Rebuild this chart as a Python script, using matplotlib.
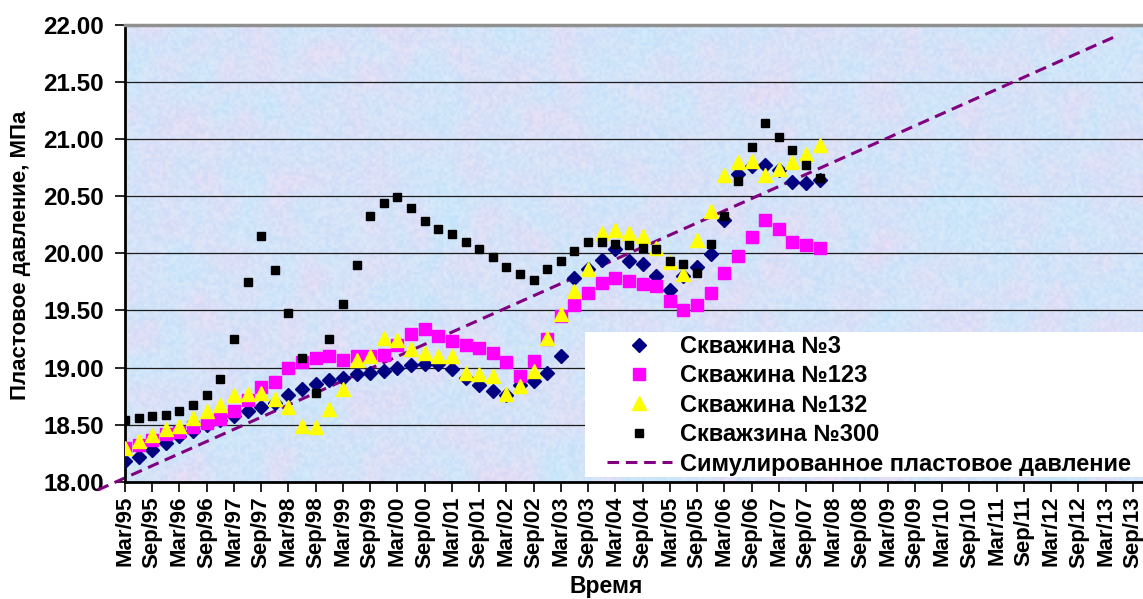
import numpy as np
import matplotlib.pyplot as plt
from matplotlib.patches import Rectangle

plt.rcParams["font.family"] = ["Liberation Sans", "DejaVu Sans"]
plt.rcParams["font.weight"] = "bold"

# quarterly readings, Mar/95 .. Dec/07 (MPa)
well_3 = [18.18, 18.22, 18.28, 18.34, 18.40, 18.45, 18.50, 18.54, 18.58, 18.62,
          18.66, 18.69, 18.76, 18.81, 18.86, 18.89, 18.91, 18.94, 18.95, 18.97,
          19.00, 19.02, 19.03, 19.03, 18.99, 18.91, 18.85, 18.80, 18.76, 18.85,
          18.88, 18.95, 19.10, 19.78, 19.86, 19.94, 20.04, 19.93, 19.91, 19.80,
          19.68, 19.80, 19.88, 19.99, 20.29, 20.69, 20.76, 20.77, 20.73, 20.62,
          20.61, 20.64]
well_123 = [18.30, 18.32, 18.37, 18.42, 18.44, 18.48, 18.52, 18.55, 18.62, 18.72,
            18.83, 18.87, 19.00, 19.05, 19.08, 19.10, 19.07, 19.10, 19.10, 19.11,
            19.20, 19.29, 19.34, 19.28, 19.23, 19.20, 19.17, 19.13, 19.05, 18.93,
            19.06, 19.25, 19.45, 19.55, 19.65, 19.74, 19.78, 19.76, 19.73, 19.71,
            19.58, 19.50, 19.55, 19.65, 19.83, 19.98, 20.14, 20.29, 20.21, 20.10,
            20.07, 20.05]
well_132 = [18.30, 18.36, 18.41, 18.46, 18.49, 18.56, 18.62, 18.67, 18.76, 18.77,
            18.78, 18.73, 18.66, 18.49, 18.48, 18.64, 18.81, 19.07, 19.10, 19.26,
            19.24, 19.16, 19.13, 19.10, 19.10, 18.95, 18.94, 18.93, 18.77, 18.84,
            18.97, 19.26, 19.47, 19.67, 19.86, 20.18, 20.20, 20.18, 20.15, 20.05,
            19.92, 19.82, 20.12, 20.37, 20.68, 20.80, 20.81, 20.68, 20.74, 20.80,
            20.87, 20.95]
well_300 = [18.54, 18.56, 18.58, 18.59, 18.62, 18.67, 18.76, 18.90, 19.25, 19.75,
            20.15, 19.85, 19.48, 19.08, 18.78, 19.25, 19.56, 19.90, 20.33, 20.44,
            20.49, 20.40, 20.28, 20.21, 20.17, 20.10, 20.04, 19.97, 19.88, 19.82,
            19.77, 19.86, 19.93, 20.02, 20.10, 20.10, 20.08, 20.07, 20.05, 20.04,
            19.93, 19.91, 19.83, 20.08, 20.33, 20.63, 20.93, 21.14, 21.02, 20.90,
            20.77, 20.66]

# simulated trend, start/end (quarter index, MPa)
sim_q = [-2.0, 72.8]
sim_p = [17.93, 21.90]

tick_labels = [f"{m}/{y % 100:02d}" for y in range(1995, 2014) for m in ("Mar", "Sep")]
y_ticks = [18.0, 18.5, 19.0, 19.5, 20.0, 20.5, 21.0, 21.5, 22.0]

W, H = 1143, 599
fig = plt.figure(figsize=(W / 100, H / 100), dpi=100)
ax = fig.add_axes([125 / W, 117 / H, (W - 125) / W, 457.5 / H])
px_per_q = 13.62
xmax = (W - 125) / px_per_q

# mottled paper-like fill of the plot area
rng = np.random.default_rng(7)
coarse = rng.random((28, 64))[..., None] ** 1.6
blue = np.array([0.77, 0.90, 0.98])
pink = np.array([0.93, 0.83, 0.95])
ax.imshow(blue * (1 - coarse) + pink * coarse, extent=(0, xmax, 18, 22),
          aspect="auto", interpolation="bicubic", zorder=0)
fine = rng.random((170, 380))[..., None]
grain = np.concatenate([np.array([0.72, 0.86, 0.98]) * (1 - fine) + np.array([1.0, 1.0, 1.0]) * fine,
                        np.full(fine.shape, 0.3)], axis=-1)
ax.imshow(grain, extent=(0, xmax, 18, 22), aspect="auto",
          interpolation="bilinear", zorder=0.1)

q = np.arange(len(well_3))
ax.plot(sim_q, sim_p, ls=(0, (3.8, 2.2)), lw=2.2, color="#800080",
        clip_on=False, zorder=2, label="Симулированное пластовое давление")
ax.plot(q, well_3, ls="none", marker="D", ms=7, color="#000080",
        zorder=3, label="Скважина №3")
ax.plot(q, well_123, ls="none", marker="s", ms=9, color="#FF00FF",
        zorder=4, label="Скважина №123")
ax.plot(q, well_132, ls="none", marker="^", ms=10, color="#FFFF00",
        zorder=5, label="Скважина №132")
ax.plot(q, well_300, ls="none", marker="s", ms=5.5, color="black",
        zorder=6, label="Скважзина №300")

ax.set_xlim(0, xmax)
ax.set_ylim(18, 22)
ax.set_xticks(np.arange(0, 2 * len(tick_labels), 2))
ax.set_xticklabels(tick_labels, rotation=90, fontsize=16, fontweight="bold")
ax.set_yticks(y_ticks)
ax.set_yticklabels([f"{v:.2f}" for v in y_ticks], fontsize=17.5, fontweight="bold")
ax.tick_params(axis="both", direction="out", length=7, width=1.2, color="black")
ax.tick_params(axis="y", pad=8)
ax.tick_params(axis="x", pad=3)

ax.set_axisbelow(True)
ax.yaxis.grid(True, color="#1a1a1a", lw=0.9)
ax.spines["left"].set_linewidth(2)
ax.spines["bottom"].set_linewidth(2)
ax.spines["top"].set_color("#909090")
ax.spines["top"].set_linewidth(2.5)
ax.spines["right"].set_visible(False)

# white legend panel in the lower right
ax.add_patch(Rectangle((0.452, 0.011), 0.6, 0.317, transform=ax.transAxes,
                       fc="white", ec="none", zorder=7))
handles, labels = ax.get_legend_handles_labels()
order = [1, 2, 3, 4, 0]
leg = ax.legend([handles[i] for i in order], [labels[i] for i in order],
                loc="upper left", bbox_to_anchor=((607 - 125) / 1018, (482 - 335) / 457.5),
                frameon=False, borderpad=0, borderaxespad=0, handlelength=2.75,
                handletextpad=0.33, labelspacing=0.27,
                prop=dict(weight="bold", size=17))
leg.set_zorder(8)

fig.text(21 / W, 1 - 255 / H, "Пластовое давление, МПа", rotation=90,
         ha="center", va="center", fontsize=16, fontweight="bold")
fig.text(606 / W, 1 - 586 / H, "Время", ha="center", va="center",
         fontsize=16.5, fontweight="bold")

fig.savefig("out.png", dpi=100)
